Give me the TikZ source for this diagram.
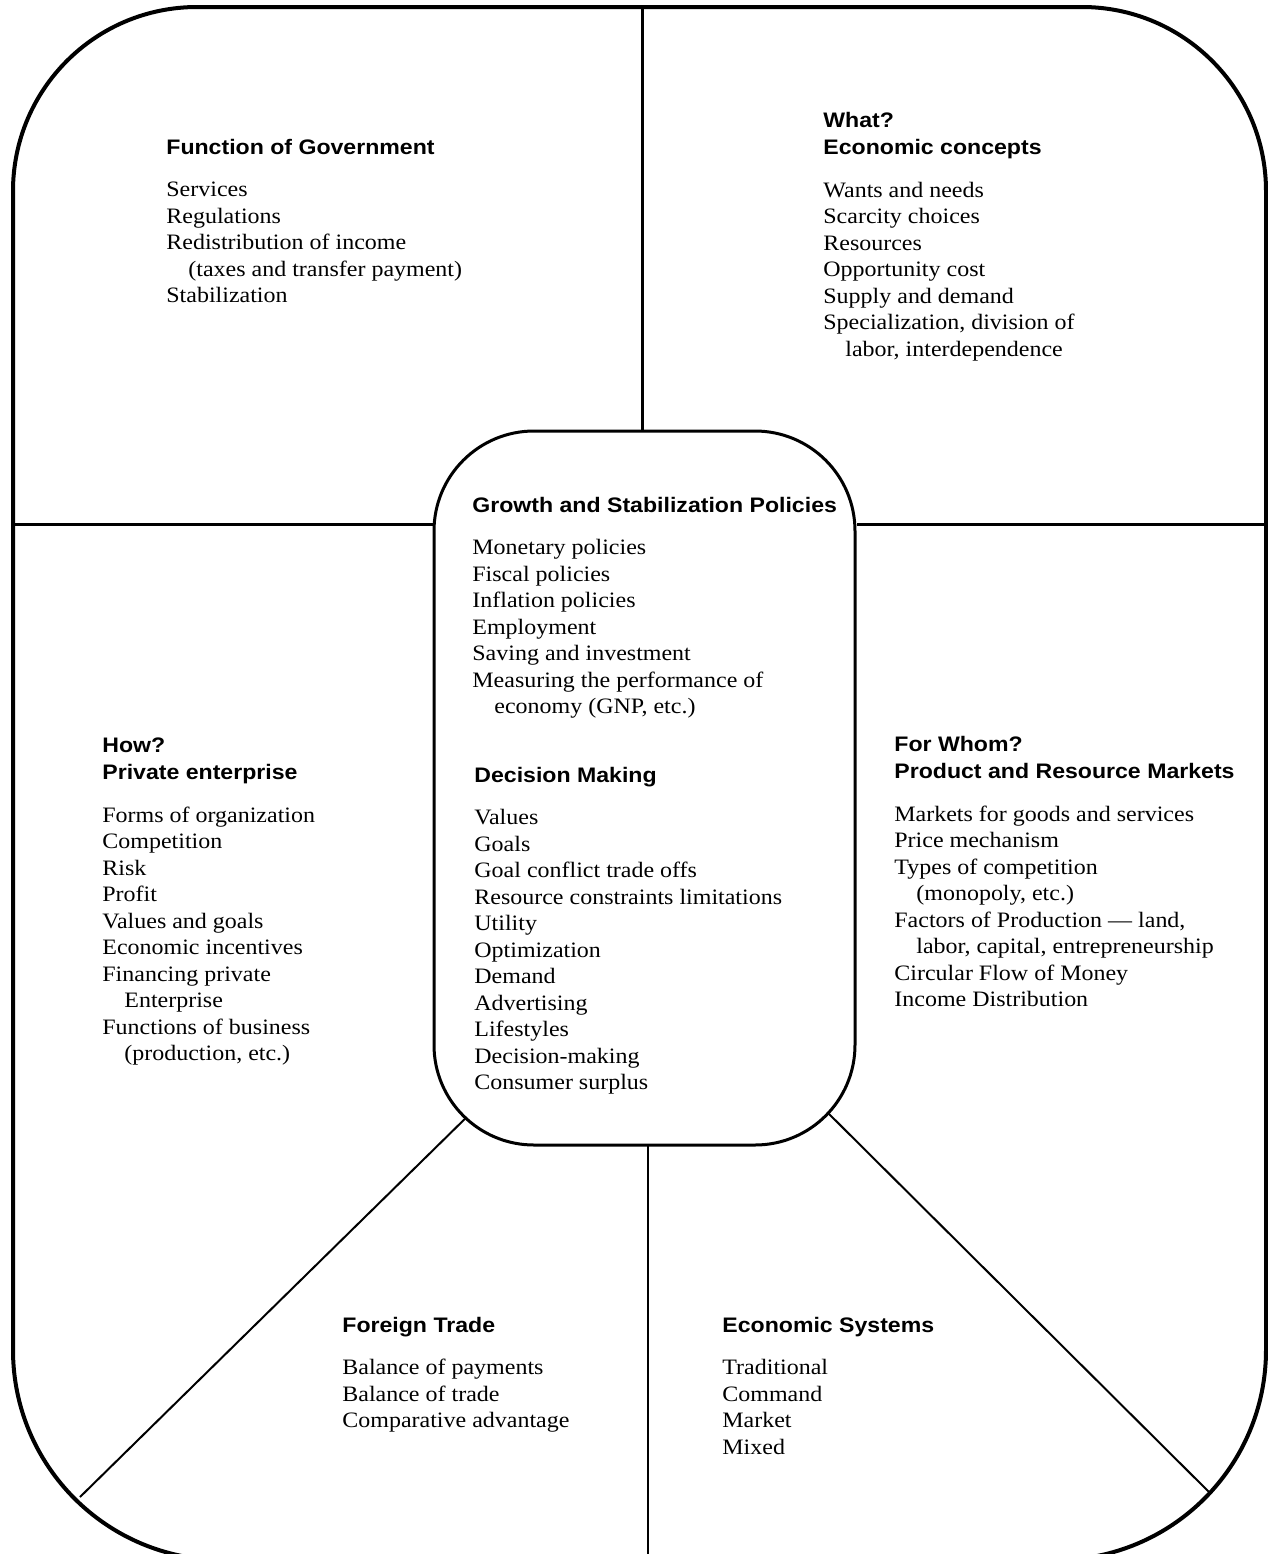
\documentclass[tikz,border=0pt]{standalone}
\usepackage{fontspec}
\setmainfont{Liberation Serif}[FakeStretch=1.09]
\setsansfont{Liberation Sans}[FakeStretch=1.1]
\usepackage{tikz}
\usetikzlibrary{positioning, calc, backgrounds}

\begin{document}
\begin{tikzpicture}[x=0.5pt, y=-0.5pt]
    % Styles
    \tikzstyle{frame} = [line width=2pt, line join=round]
    \tikzstyle{hubbox} = [draw, fill=white, line width=1.5pt, rounded corners=50pt, minimum width=210.5pt, minimum height=357pt, inner sep=0pt]
    \tikzstyle{divider} = [line width=1.5pt]
    \tikzstyle{spoke} = [line width=1pt]
    \tikzstyle{head} = [anchor=base west, inner sep=0pt, text height=8pt, text depth=0pt, font=\fontsize{10.5}{13.25}\sffamily\bfseries]
    \tikzstyle{items} = [inner sep=0pt, align=left, font=\fontsize{11}{13.25}\selectfont]
    \newcommand{\ind}{\hspace*{1em}}

    \useasboundingbox (0,0) rectangle (1268,1554);
    \clip (0,0) rectangle (1268,1554);

    % Frame
    \draw[frame] (13,700) [rounded corners=92pt] -- (13,7) -- (1266,7) -- (1266,900)
        [rounded corners=105pt] -- (1266,1560) -- (13,1560) -- cycle;

    % Centre box
    \node (hub) [hubbox] at (644.5,788) {};

    % Coordinates on the frame
    \coordinate (topmid) at (642,7);
    \coordinate (leftmid) at (13,524);
    \coordinate (rightmid) at (1266,524);
    \coordinate (botmid) at (648,1560);
    \coordinate (botleft) at (80,1497);
    \coordinate (botright) at (1210,1493);
    \coordinate (hubtop) at ($(hub.north)+(-2,10)$);
    \coordinate (hubbot) at ($(hub.south)+(3.5,-10)$);
    \coordinate (hubsw) at ($(hub.south west)+(46,-41)$);
    \coordinate (hubse) at ($(hub.south east)+(-40,-45)$);

    % Dividers
    \begin{scope}[on background layer]
        \draw[divider] (hubtop) -- (hubtop |- topmid);
        \draw[divider] (leftmid) -- (hub.west |- leftmid);
        \draw[divider] (rightmid) -- (hub.east |- rightmid);
        \draw[spoke] (hubbot) -- (hubbot |- botmid);
        \draw[spoke] (hubsw) -- (botleft);
        \draw[spoke] (hubse) -- (botright);
    \end{scope}

    % Function of Government
    \node (govhead) [head] at (166,154) {Function of Government};
    \node (govlist) [items, below right=11.7pt and 0pt of govhead.south west] {\strut Services\\Regulations\\Redistribution of income\\\ind(taxes and transfer payment)\\Stabilization};

    % What?
    \node (whathead) [head] at (823,127) {What?};
    \node (conhead) [head, below right=5.25pt and 0pt of whathead.south west] {Economic concepts};
    \node (conlist) [items, below right=11.7pt and 0pt of conhead.south west] {\strut Wants and needs\\Scarcity choices\\Resources\\Opportunity cost\\Supply and demand\\Specialization, division of\\\ind labor, interdependence};

    % Growth and Stabilization Policies
    \node (growhead) [head] at (472,512) {Growth and Stabilization Policies};
    \node (growlist) [items, below right=11.7pt and 0pt of growhead.south west] {\strut Monetary policies\\Fiscal policies\\Inflation policies\\Employment\\Saving and investment\\Measuring the performance of\\\ind economy (GNP, etc.)};

    % Decision Making
    \node (dechead) [head] at (474,782) {Decision Making};
    \node (declist) [items, below right=11.7pt and 0pt of dechead.south west] {\strut Values\\Goals\\Goal conflict trade offs\\Resource constraints limitations\\Utility\\Optimization\\Demand\\Advertising\\Lifestyles\\Decision-making\\Consumer surplus};

    % How?
    \node (howhead) [head] at (102,752) {How?};
    \node (privhead) [head, below right=5.25pt and 0pt of howhead.south west] {Private enterprise};
    \node (privlist) [items, below right=11.7pt and 0pt of privhead.south west] {\strut Forms of organization\\Competition\\Risk\\Profit\\Values and goals\\Economic incentives\\Financing private\\\ind Enterprise\\Functions of business\\\ind(production, etc.)};

    % For Whom?
    \node (whomhead) [head] at (894,751) {For Whom?};
    \node (markhead) [head, below right=5.25pt and 0pt of whomhead.south west] {Product and Resource Markets};
    \node (marklist) [items, below right=11.7pt and 0pt of markhead.south west] {\strut Markets for goods and services\\Price mechanism\\Types of competition\\\ind(monopoly, etc.)\\Factors of Production --- land,\\\ind labor, capital, entrepreneurship\\Circular Flow of Money\\Income Distribution};

    % Foreign Trade
    \node (tradehead) [head] at (342,1332) {Foreign Trade};
    \node (tradelist) [items, below right=11.7pt and 0pt of tradehead.south west] {\strut Balance of payments\\Balance of trade\\Comparative advantage};

    % Economic Systems
    \node (syshead) [head] at (722,1332) {Economic Systems};
    \node (syslist) [items, below right=11.7pt and 0pt of syshead.south west] {\strut Traditional\\Command\\Market\\Mixed};
\end{tikzpicture}
\end{document}
